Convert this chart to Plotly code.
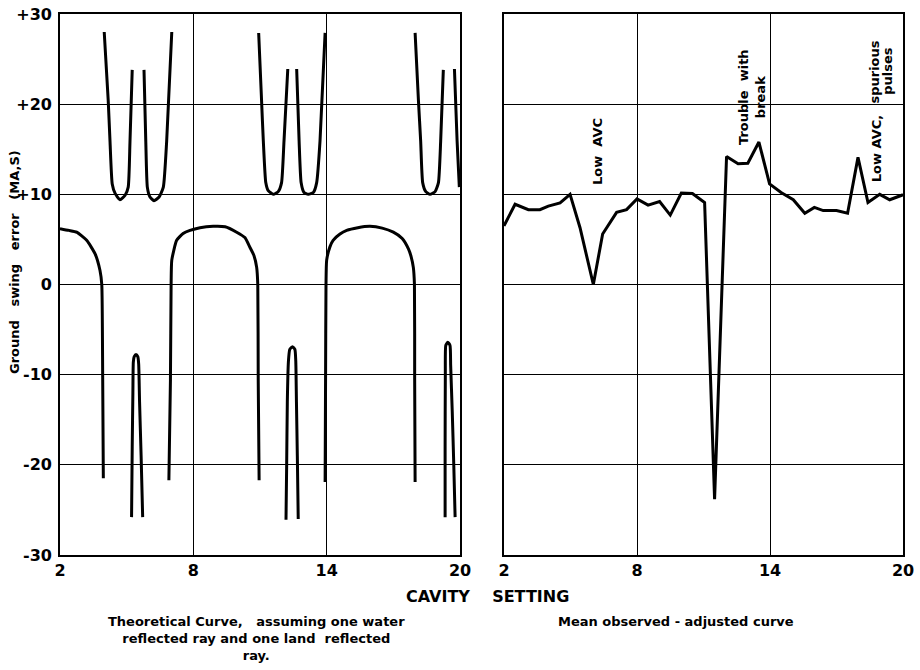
import plotly.graph_objects as go

FONT = "DejaVu Sans"

# ---------------- data: theoretical curve (left panel) ----------------
arc_a_x = [2.0, 2.4, 2.75, 3.2, 3.58, 3.8, 3.88, 3.92, 3.95]
arc_a_y = [6.2, 6.0, 5.8, 4.9, 3.4, 1.55, 0.0, -10.0, -21.5]

u1_x = [3.99, 4.17, 4.25, 4.35, 4.48, 4.7, 4.93, 5.07, 5.15, 5.25]
u1_y = [28.0, 20.4, 15.9, 11.15, 10.1, 9.4, 9.9, 10.8, 15.9, 23.8]

p1_x = [5.22, 5.25, 5.28, 5.30, 5.34, 5.42, 5.50, 5.54, 5.58, 5.65, 5.72]
p1_y = [-25.8, -18.0, -12.0, -8.6, -8.0, -7.75, -8.0, -8.8, -13.0, -19.0, -25.8]

u2_x = [5.78, 5.86, 5.93, 6.05, 6.23, 6.46, 6.65, 6.8, 7.03]
u2_y = [23.8, 15.9, 10.8, 9.7, 9.3, 9.7, 10.8, 15.9, 28.0]

arc_b_x = [6.9, 6.97, 7.0, 7.03, 7.25, 7.54, 7.85, 8.3, 8.89, 9.43, 9.95, 10.32, 10.55,
           10.73, 10.85, 10.9, 10.92, 10.96]
arc_b_y = [-21.7, -10.6, 0.0, 2.7, 4.9, 5.65, 6.0, 6.3, 6.45, 6.4, 5.8, 5.2, 4.1,
           3.2, 1.9, 0.0, -10.6, -21.7]

u3_x = [10.94, 11.07, 11.15, 11.26, 11.37, 11.6, 11.82, 11.97, 12.08, 12.25]
u3_y = [27.9, 20.4, 15.9, 11.3, 10.4, 10.0, 10.3, 11.3, 15.9, 23.9]

p2_x = [12.17, 12.20, 12.23, 12.28, 12.34, 12.46, 12.57, 12.61, 12.64, 12.68, 12.72]
p2_y = [-26.1, -20.0, -13.0, -8.5, -7.2, -6.9, -7.2, -8.5, -13.0, -19.0, -26.0]

u4_x = [12.65, 12.76, 12.85, 12.98, 13.17, 13.4, 13.55, 13.7, 13.93]
u4_y = [23.9, 15.9, 11.3, 10.2, 10.0, 10.2, 11.3, 15.9, 27.9]

arc_c_x = [13.93, 13.95, 13.97, 14.0, 14.15, 14.29, 14.6, 14.9, 15.4, 15.95, 16.5, 17.0,
           17.4, 17.68, 17.8, 17.9, 17.95, 17.96, 17.98]
arc_c_y = [-21.9, -10.6, 0.0, 2.7, 4.2, 4.9, 5.6, 6.0, 6.3, 6.45, 6.25, 5.8,
           5.1, 3.95, 3.1, 1.9, 0.0, -10.6, -21.9]

u5_x = [17.98, 18.13, 18.23, 18.32, 18.46, 18.65, 18.88, 19.03, 19.13, 19.25]
u5_y = [27.9, 20.4, 15.9, 11.3, 10.3, 10.0, 10.3, 11.3, 15.9, 23.8]

p3_x = [19.33, 19.33, 19.34, 19.36, 19.45, 19.55, 19.58, 19.65, 19.72, 19.78]
p3_y = [-25.8, -18.0, -10.0, -6.75, -6.4, -6.75, -9.0, -14.0, -20.0, -25.8]

u6_x = [19.75, 19.87, 19.97]
u6_y = [23.9, 15.9, 10.8]

# ---------------- data: mean observed - adjusted curve (right panel) ----------------
obs_x = [2.0, 2.5, 3.1, 3.62, 4.0, 4.53, 4.98, 5.43, 6.03, 6.45, 7.08, 7.53, 8.0, 8.5,
         9.02, 9.5, 10.0, 10.5, 11.05, 11.5, 12.04, 12.56, 13.0, 13.5, 13.98, 14.5,
         15.05, 15.57, 16.0, 16.4, 17.0, 17.5, 17.97, 18.42, 18.95, 19.4, 20.0]
obs_y = [6.5, 8.9, 8.3, 8.3, 8.7, 9.05, 10.0, 6.3, 0.0, 5.6, 8.0, 8.3, 9.5, 8.8,
         9.2, 7.7, 10.15, 10.1, 9.1, -23.8, 14.2, 13.4, 13.45, 15.8, 11.15, 10.2,
         9.4, 7.9, 8.55, 8.2, 8.2, 7.9, 14.1, 9.1, 10.0, 9.4, 9.95]

# ---------------- tick labels ----------------
x_ticks = [2, 8, 14, 20]
x_tick_labels = ["2", "8", "14", "20"]
y_ticks = [30, 20, 10, 0, -10, -20, -30]
y_tick_labels = ["+30", "+20", "+10", "0", "-10", "-20", "-30"]

segments = [(arc_a_x, arc_a_y), (u1_x, u1_y), (p1_x, p1_y), (u2_x, u2_y),
            (arc_b_x, arc_b_y), (u3_x, u3_y), (p2_x, p2_y), (u4_x, u4_y),
            (arc_c_x, arc_c_y), (u5_x, u5_y), (p3_x, p3_y), (u6_x, u6_y)]
theory_x, theory_y = [], []
for sx, sy in segments:
    theory_x += list(sx) + [None]
    theory_y += list(sy) + [None]

fig = go.Figure()
fig.add_trace(go.Scatter(
    x=theory_x, y=theory_y, mode="lines", connectgaps=False,
    line=dict(color="black", width=3, shape="spline", smoothing=0.5),
    xaxis="x", yaxis="y", showlegend=False, hoverinfo="skip"))
fig.add_trace(go.Scatter(
    x=obs_x, y=obs_y, mode="lines",
    line=dict(color="black", width=3),
    xaxis="x2", yaxis="y2", showlegend=False, hoverinfo="skip"))

tickfont = dict(family=FONT, size=16, color="black", weight="bold")
common = dict(showgrid=True, gridcolor="black", gridwidth=1.3, showline=True,
              linecolor="black", linewidth=1.6, mirror=True, zeroline=False,
              ticks="", tickfont=tickfont, automargin=False,
              ticklabeloverflow="allow")

W, H = 920, 670
ML, MT = 60, 14
PLOT_RIGHT, PLOT_BOTTOM = 903, 555
MR, MB = W - PLOT_RIGHT, H - PLOT_BOTTOM
PW, PH = W - ML - MR, H - MT - MB


def px(xw):
    return (xw - ML) / PW


def py(yw):
    return (H - MB - yw) / PH


fig.update_layout(
    width=W, height=H,
    margin=dict(l=ML, r=MR, t=MT, b=MB, autoexpand=False),
    paper_bgcolor="white", plot_bgcolor="white",
    xaxis=dict(domain=[0, px(460)], range=[2, 20], tickvals=x_ticks,
               ticktext=x_tick_labels, anchor="y", **common),
    yaxis=dict(domain=[0, 1], range=[-30, 30], tickvals=y_ticks,
               ticktext=y_tick_labels, anchor="x", ticklabelstandoff=3, **common),
    xaxis2=dict(domain=[px(504), 1], range=[2, 20], tickvals=x_ticks,
                ticktext=x_tick_labels, anchor="y2", **common),
    yaxis2=dict(domain=[0, 1], range=[-30, 30], tickvals=y_ticks,
                showticklabels=False, anchor="x2", **common),
)

NB = "\u00a0"
ann_font = dict(family=FONT, size=13, color="black", weight="bold")
cap_font = dict(family=FONT, size=13, color="black", weight="bold")
annotations = [
    dict(text=f"Ground{NB*3}swing{NB*3}error{NB*3}(MA,S)", x=px(14), y=py(262),
         xref="paper", yref="paper", xanchor="center", yanchor="middle",
         textangle=-90, showarrow=False,
         font=dict(family=FONT, size=13, color="black", weight="bold")),
    dict(text=f"CAVITY{NB*4}SETTING", x=px(487), y=py(596), xref="paper", yref="paper",
         xanchor="center", yanchor="middle", showarrow=False,
         font=dict(family=FONT, size=16, color="black", weight="bold")),
    dict(text=f"Theoretical Curve,{NB*2} assuming one water<br>"
              f"reflected ray and one land{NB} reflected<br>ray.",
         x=px(256), y=py(612), xref="paper", yref="paper", xanchor="center",
         yanchor="top", showarrow=False, align="center", font=cap_font),
    dict(text="Mean observed - adjusted curve", x=px(676), y=py(612),
         xref="paper", yref="paper", xanchor="center", yanchor="top",
         showarrow=False, font=cap_font),
    dict(text=f"Low{NB*2}AVC", x=6.19, y=14.8, xref="x2", yref="y2",
         xanchor="center", yanchor="middle",
         textangle=-90, showarrow=False, font=ann_font),
    dict(text=f"Trouble{NB*2}with<br>break", x=13.19, y=20.8, xref="x2", yref="y2",
         xanchor="center", yanchor="middle",
         textangle=-90, showarrow=False, font=ann_font),
    dict(text="Low AVC,", x=18.82, y=15.1, xref="x2", yref="y2",
         xanchor="center", yanchor="middle",
         textangle=-90, showarrow=False, font=ann_font),
    dict(text="spurious", x=18.73, y=23.6, xref="x2", yref="y2",
         xanchor="center", yanchor="middle",
         textangle=-90, showarrow=False, font=ann_font),
    dict(text="pulses", x=19.32, y=23.7, xref="x2", yref="y2",
         xanchor="center", yanchor="middle",
         textangle=-90, showarrow=False, font=ann_font),
]
fig.update_layout(annotations=annotations)

# remove the page's default 8px body margin so the figure fills the window exactly
fig.write_html("out.html",
               config={"displayModeBar": False},
               post_script="document.body.style.margin='0';"
                           "document.body.style.overflow='hidden';")
